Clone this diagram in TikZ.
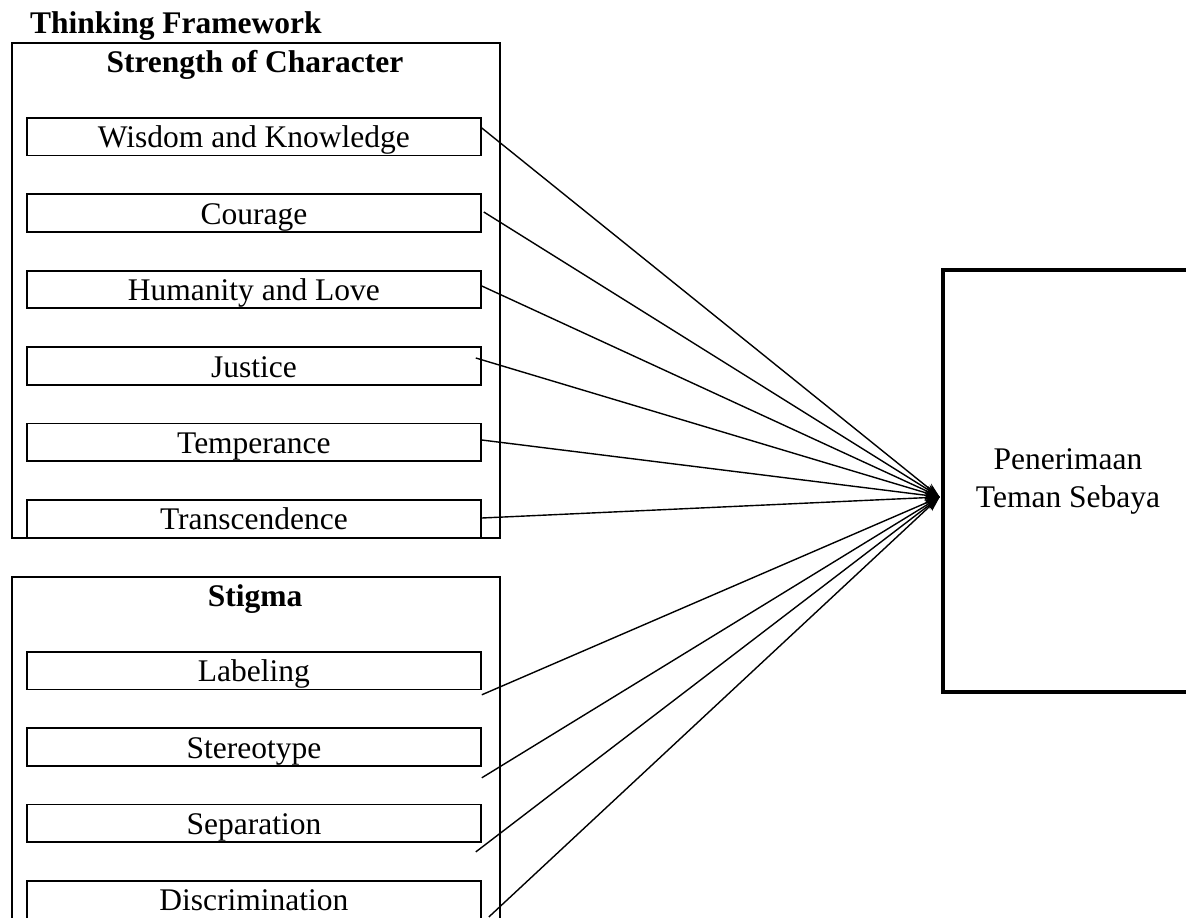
\documentclass[tikz,border=0pt]{standalone}
\usepackage{fontspec}
\setmainfont{Liberation Serif}
\usetikzlibrary{arrows.meta,calc}
\begin{document}
\begin{tikzpicture}[x=1pt,y=-1pt,
  txt/.style={font=\fontsize{31.5}{38}\selectfont},
  head/.style={txt,font=\fontsize{31.5}{38}\selectfont\bfseries,anchor=base,inner sep=0pt},
  group/.style={draw,line width=1.8pt,minimum width=488pt,anchor=north west,inner sep=0pt},
  itembox/.style={draw,line width=1.8pt,txt,minimum width=454pt,minimum height=37.5pt,
    inner sep=0pt,text height=27.5pt,text depth=5pt,anchor=north west},
  target/.style={draw,line width=4.5pt,txt,minimum width=250pt,minimum height=422pt,align=center},
  conn/.style={line width=1.4pt,-{Stealth[length=15pt,width=10pt]}}]
\clip (0,0) rectangle (1186,918);
\fill[white] (0,0) rectangle (1186,918);

\node[head,anchor=base west] (title) at (30,33) {Thinking Framework};

% Strength of Character group
\node[group,minimum height=495pt] (sc) at (11,42) {};
\node[head] (schead) at (255,72) {Strength of Character};
\node[itembox] (wis) at (26,117)   {Wisdom and Knowledge};
\node[itembox] (cou) at (26,193.4) {Courage};
\node[itembox] (hum) at (26,269.8) {Humanity and Love};
\node[itembox] (jus) at (26,346.2) {Justice};
\node[itembox] (tem) at (26,422.6) {Temperance};
\node[itembox] (tra) at (26,499)   {Transcendence};

% Stigma group
\node[group,minimum height=360pt] (sg) at (11,576) {};
\node[head] (sghead) at (255,606) {Stigma};
\node[itembox] (lab) at (26,651)    {Labeling};
\node[itembox] (ste) at (26,727.3)  {Stereotype};
\node[itembox] (sep) at (26,803.6)  {Separation};
\node[itembox] (dis) at (26,880)    {Discrimination};

% Target
\node[target] (pen) at (1068,481) {Penerimaan\\Teman Sebaya};
\coordinate (tip) at ($(pen.west)+(-1,16)$);

% connector start points
\coordinate (s1) at ($(wis.north east)+(0,11)$);
\coordinate (s2) at ($(cou.north east)+(2,18.6)$);
\coordinate (s3) at ($(hum.north east)+(0,16.2)$);
\coordinate (s4) at ($(jus.north east)+(-6,11.8)$);
\coordinate (s5) at ($(tem.north east)+(0,17.4)$);
\coordinate (s6) at ($(tra.north east)+(0,19)$);
\coordinate (s7) at ($(lab.south east)+(0,4.5)$);
\coordinate (s8) at ($(ste.south east)+(0,11.2)$);
\coordinate (s9) at ($(sep.south east)+(-6,9)$);
\coordinate (s10) at ($(dis.north east)+(7,37)$);

\foreach \s in {s1,s2,s3,s4,s5,s6,s7,s8,s9,s10}
  \draw[conn] (\s) -- (tip);
\end{tikzpicture}
\end{document}
